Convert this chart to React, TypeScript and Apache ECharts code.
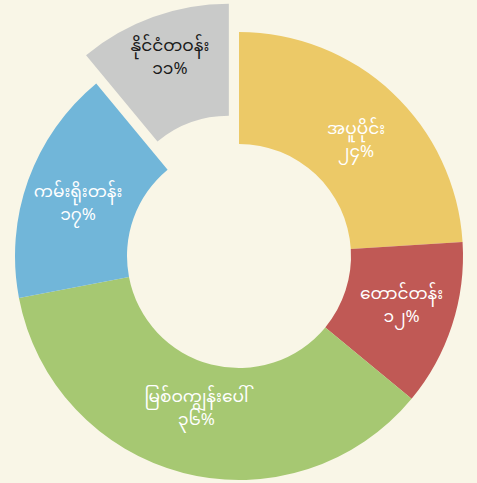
import React, { useEffect, useRef } from "react";
import * as echarts from "echarts";

const categories = ["အပူပိုင်း", "တောင်တန်း", "မြစ်ဝကျွန်းပေါ်", "ကမ်းရိုးတန်း", "နိုင်ငံတဝန်း"];
const values = [24, 12, 36, 17, 11];
const colors = ["#ecc967", "#c05955", "#a6c872", "#71b6d9", "#c9cac9"];
const labelColors = ["#ffffff", "#ffffff", "#ffffff", "#ffffff", "#1a1a1a"];
const labelOffsets = [[0, 10], [0, -2], [0, -12], [0, 6], [-1, -8]];
const explodedIndex = 4;

const myDigits = ["၀", "၁", "၂", "၃", "၄", "၅", "၆", "၇", "၈", "၉"];
const toMyanmar = (n: number) =>
  String(n).replace(/[0-9]/g, (d) => myDigits[Number(d)]);

export default function App() {
  const ref = useRef<HTMLDivElement>(null);
  useEffect(() => {
    document.body.style.margin = "0";
    document.body.style.background = "#f9f6e7";
    if (!ref.current) return;
    const chart = echarts.init(ref.current, undefined, { renderer: "svg" });
    const total = values.reduce((a, b) => a + b, 0);
    chart.setOption({
      animation: false,
      backgroundColor: "#f9f6e7",
      series: [
        {
          type: "pie",
          center: [239, 256],
          radius: [112, 224],
          startAngle: 90,
          clockwise: true,
          selectedMode: "single",
          selectedOffset: 30,
          avoidLabelOverlap: false,
          label: {
            show: true,
            position: "inside",
            fontFamily: "'Noto Sans Myanmar', 'Noto Sans', sans-serif",
            fontSize: 17,
            lineHeight: 23,
            formatter: (p: any) =>
              p.name + "\n" + toMyanmar(Math.round((p.value / total) * 100)) + "%",
          },
          labelLine: { show: false },
          emphasis: { disabled: true },
          data: categories.map((c, i) => ({
            name: c,
            value: values[i],
            selected: i === explodedIndex,
            itemStyle: { color: colors[i] },
            label: { color: labelColors[i], offset: labelOffsets[i] },
            select: {
              itemStyle: { color: colors[i] },
              label: { color: labelColors[i], offset: labelOffsets[i] },
            },
          })),
        },
      ],
    });
    return () => chart.dispose();
  }, []);
  return <div ref={ref} style={{ width: 477, height: 483 }} />;
}
